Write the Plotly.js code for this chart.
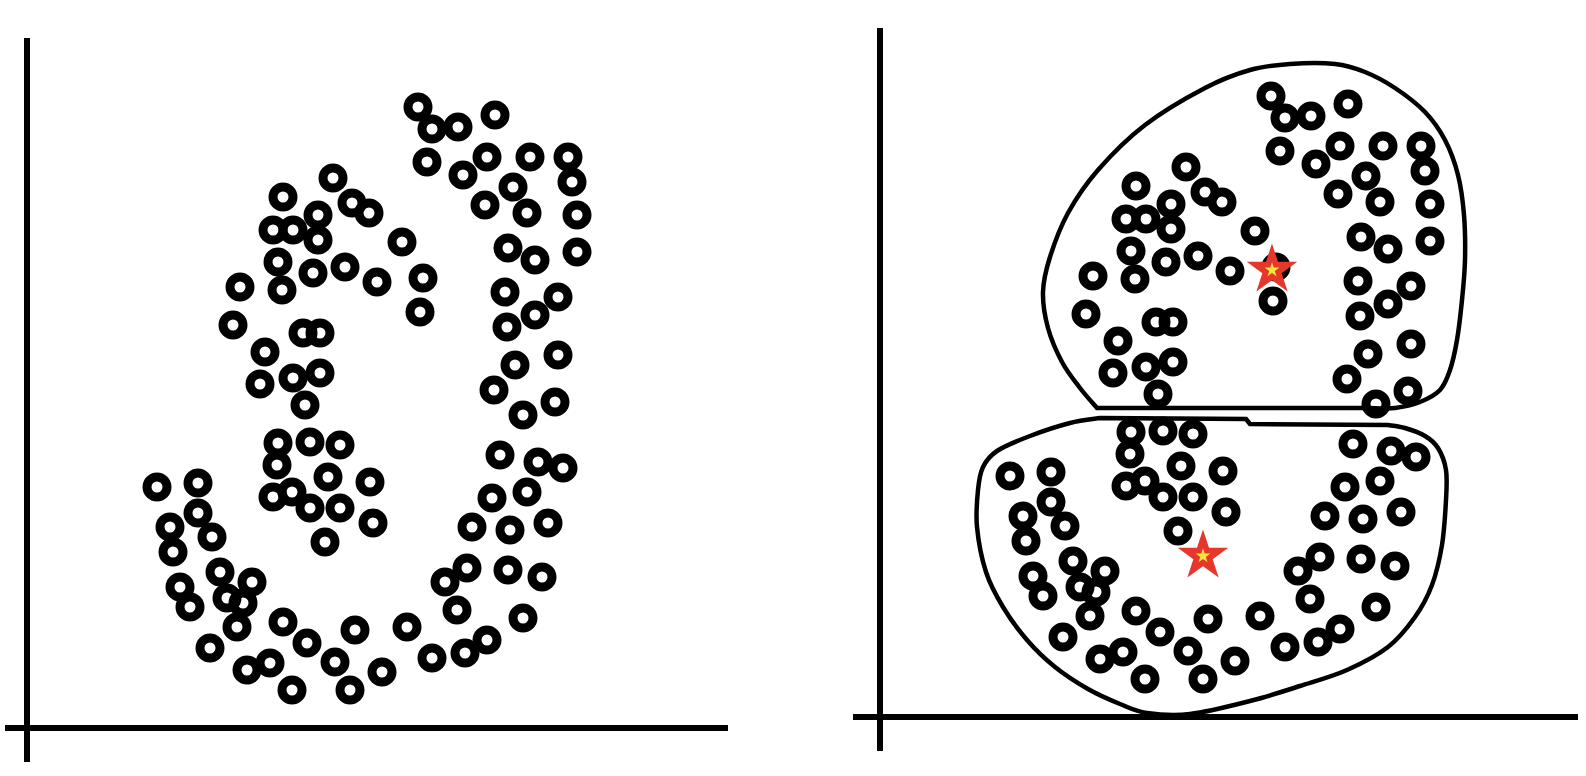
<!DOCTYPE html>
<html>
<head>
<meta charset="utf-8">
<script src="https://cdn.plot.ly/plotly-3.0.1.min.js"></script>
<style>html,body{margin:0;padding:0;background:#fff;}#chart{width:1586px;height:776px;}</style>
</head>
<body>
<div id="chart"></div>
<script>
// Sample points (same data shown in both panels)
const pointsX = [
  306,325,342,256,246,266,291,291,251,286,318,255,213,206,276,293,238,233,266,293,350,
  391,405,431,468,400,460,436,503,541,486,458,500,545,550,550,375,396,393,481,508,478,531,508,480,531,488,467,528,
  278,251,283,313,250,301,246,265,283,313,298,130,171,171,143,185,146,193,225,153,200,163,216,210,183,256,280,308,323,220,243,265,
  496,473,511,536,500,465,521,445,483,440,418,481,515,430,496,380,460,438,405,355,343,346,328
];
const pointsY = [
  550,525,515,531,498,498,513,488,466,455,461,438,441,403,395,395,376,344,350,355,446,
  621,599,601,613,566,571,553,571,571,541,523,515,546,513,476,486,450,416,480,468,436,431,413,401,373,363,338,326,
  323,285,286,283,263,251,231,236,220,220,186,241,245,215,201,191,176,156,146,141,130,121,125,101,80,106,85,66,38,58,65,38,
  313,273,266,260,236,230,205,201,198,160,146,158,151,118,110,101,88,75,70,56,246,205,98
];
// Cluster centroids (right panel)
const centroidX = [392, 323];
const centroidY = [447, 161];

// Cluster outlines (right panel)
const upperBoundary = [[217,309],[200,329],[182,355],[168,389],[163,425],[170,460],[188,504],[218,547],[265,592],[325,629],[370,647],[410,653],[455,653],[485,645],[515,629],[545,605],[565,577],[578,542],[584,502],[585,457],[582,417],[577,377],[570,347],[560,327],[540,315],[515,309],[490,309]];
const upperClose = [[217,309]];
const lowerBoundary = [[220,299],[190,294],[150,281],[117,266],[103,250],[98,227],[97,190],[106,145],[123,110],[147,77],[175,50],[208,28],[240,13],[267,4],[310,3],[370,16],[420,31],[467,47],[508,70],[535,100],[552,132],[562,172],[566,217],[566,247],[558,269],[545,281],[525,289],[508,292]];
const lowerClose = [[370,293],[366,298],[220,299]];

function smoothPath(pts, tail) {
  let d = 'M' + pts[0][0] + ',' + pts[0][1];
  for (let i = 0; i < pts.length - 1; i++) {
    const p0 = pts[i - 1] || pts[i], p1 = pts[i], p2 = pts[i + 1], p3 = pts[i + 2] || pts[i + 1];
    const c1 = [p1[0] + (p2[0] - p0[0]) / 6, p1[1] + (p2[1] - p0[1]) / 6];
    const c2 = [p2[0] - (p3[0] - p1[0]) / 6, p2[1] - (p3[1] - p1[1]) / 6];
    d += ' C' + c1[0].toFixed(2) + ',' + c1[1].toFixed(2) + ' ' + c2[0].toFixed(2) + ',' + c2[1].toFixed(2) + ' ' + p2[0] + ',' + p2[1];
  }
  tail.forEach(p => { d += ' L' + p[0] + ',' + p[1]; });
  return d + ' Z';
}

const markerStyle = {symbol: 'circle-open', size: 20, color: '#000', line: {width: 9, color: '#000'}};

const traces = [
  {x: pointsX, y: pointsY, xaxis: 'x', yaxis: 'y', type: 'scatter', mode: 'markers', marker: markerStyle, hoverinfo: 'skip'},
  {x: pointsX, y: pointsY, xaxis: 'x2', yaxis: 'y2', type: 'scatter', mode: 'markers', marker: markerStyle, hoverinfo: 'skip'},
  {x: centroidX, y: centroidY, xaxis: 'x2', yaxis: 'y2', type: 'scatter', mode: 'markers',
   marker: {symbol: 'star', size: 38, color: '#e5372b', line: {width: 0}}, hoverinfo: 'skip'},
  {x: centroidX, y: centroidY, xaxis: 'x2', yaxis: 'y2', type: 'scatter', mode: 'markers',
   marker: {symbol: 'star', size: 11, color: '#f7e43a', line: {width: 0}}, hoverinfo: 'skip'}
];

const axisLine = {color: '#000', width: 6};
const shapes = [
  {type: 'line', xref: 'x', yref: 'y', x0: 0, x1: 0, y0: -34, y1: 690, line: axisLine, layer: 'below'},
  {type: 'line', xref: 'x', yref: 'y', x0: -22, x1: 701, y0: 0, y1: 0, line: axisLine, layer: 'below'},
  {type: 'line', xref: 'x2', yref: 'y2', x0: 0, x1: 0, y0: -34, y1: 689, line: axisLine, layer: 'below'},
  {type: 'line', xref: 'x2', yref: 'y2', x0: -27, x1: 698, y0: 0, y1: 0, line: axisLine, layer: 'below'},
  {type: 'path', xref: 'x2', yref: 'y2', path: smoothPath(upperBoundary, upperClose), line: {color: '#000', width: 4.5}, layer: 'below'},
  {type: 'path', xref: 'x2', yref: 'y2', path: smoothPath(lowerBoundary, lowerClose), line: {color: '#000', width: 4.5}, layer: 'below'}
];

const layout = {
  width: 1586, height: 776,
  margin: {l: 0, r: 0, t: 0, b: 0, pad: 0},
  paper_bgcolor: '#fff', plot_bgcolor: '#fff',
  showlegend: false,
  xaxis: {domain: [0, 0.5], range: [-27, 766], visible: false, fixedrange: true},
  yaxis: {domain: [0, 1], range: [-48, 728], visible: false, fixedrange: true},
  xaxis2: {domain: [0.5, 1], range: [-87, 706], visible: false, anchor: 'y2', fixedrange: true},
  yaxis2: {domain: [0, 1], range: [-59, 717], visible: false, anchor: 'x2', fixedrange: true},
  shapes: shapes
};

Plotly.newPlot('chart', traces, layout, {displayModeBar: false, staticPlot: true});
</script>
</body>
</html>
